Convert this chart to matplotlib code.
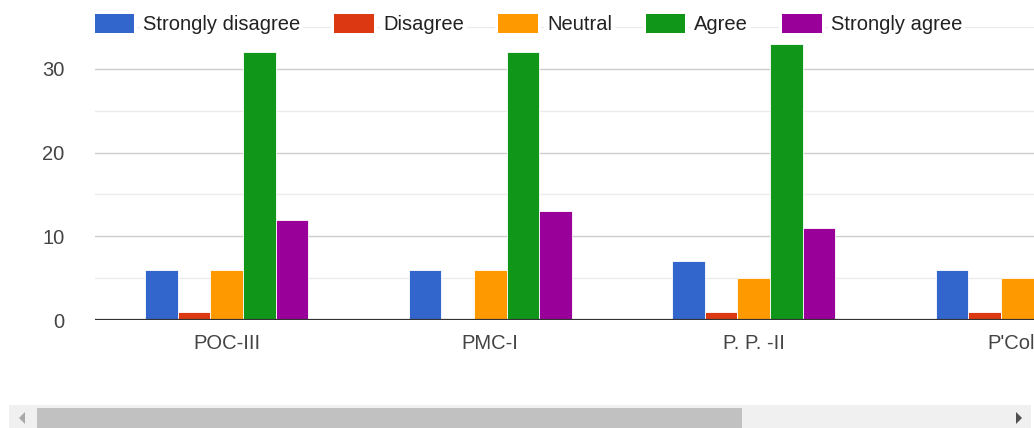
import numpy as np
import matplotlib
matplotlib.use("Agg")
import matplotlib.pyplot as plt
from matplotlib.patches import Rectangle, Polygon

plt.rcParams['font.family'] = ['Liberation Sans', 'DejaVu Sans']

categories = ["POC-III", "PMC-I", "P. P. -II", "P'Col-I"]
series_names = ["Strongly disagree", "Disagree", "Neutral", "Agree", "Strongly agree"]
strongly_disagree = [6, 6, 7, 6]
disagree = [1, 0, 1, 1]
neutral = [6, 6, 5, 5]
agree = [32, 32, 33, np.nan]
strongly_agree = [12, 13, 11, np.nan]
colors = ["#3366cc", "#dc3912", "#ff9900", "#109618", "#990099"]
y_ticks = [0, 10, 20, 30]

series = [strongly_disagree, disagree, neutral, agree, strongly_agree]

W, H = 1034, 428
fig = plt.figure(figsize=(W / 100, H / 100), dpi=100)

def fx(x):
    return x / W

def fy(y):
    return 1 - y / H

ax_left, ax_right, ax_top, ax_bottom = 95, 1034, 27, 320
ax = fig.add_axes([fx(ax_left), fy(ax_bottom), (ax_right - ax_left) / W, (ax_bottom - ax_top) / H])

group_px = 263.5
x = np.arange(len(categories))
bw = 0.1237
for k, (vals, c) in enumerate(zip(series, colors)):
    ax.bar(x + (k - 2) * bw, vals, width=bw, color=c, edgecolor="white", linewidth=0.6, zorder=3)

ax.set_xlim(-0.5, -0.5 + (ax_right - ax_left) / group_px)
ax.set_ylim(0, 35)
ax.set_yticks(y_ticks)
ax.set_yticks([5, 15, 25, 35], minor=True)
ax.grid(axis="y", which="major", color="#cccccc", linewidth=1.0, zorder=0)
ax.grid(axis="y", which="minor", color="#ebebeb", linewidth=1.0, zorder=0)
ax.set_xticks(x)
ax.set_xticklabels(categories)
ax.tick_params(axis="both", which="both", length=0, labelsize=14.5, labelcolor="#444444")
ax.tick_params(axis="y", pad=22)
ax.tick_params(axis="x", pad=10)
for s in ax.spines.values():
    s.set_visible(False)
ax.axhline(0, color="#333333", linewidth=1.6, zorder=5)

# legend
leg = [(95, 134, 143), (334, 374, 383), (498, 538, 547), (646, 685, 694), (782, 822, 831)]
for (x0, x1, tx), name, c in zip(leg, series_names, colors):
    fig.add_artist(Rectangle((fx(x0 - 3), fy(36)), (x1 - x0 + 6) / W, 24 / H,
                             transform=fig.transFigure, facecolor="white", edgecolor="none", zorder=6))
    fig.add_artist(Rectangle((fx(x0), fy(33)), (x1 - x0) / W, 19 / H,
                             transform=fig.transFigure, facecolor=c, edgecolor="none", zorder=7))
    fig.text(fx(tx), fy(24), name, fontsize=14.5, color="#222222", va="center", ha="left", zorder=7,
             bbox=dict(facecolor="white", edgecolor="none", pad=2))

# scrollbar
fig.add_artist(Rectangle((fx(9), fy(428)), (1031 - 9) / W, 23 / H, transform=fig.transFigure,
                         facecolor="#f0f0f0", edgecolor="none"))
fig.add_artist(Rectangle((fx(37), fy(428)), (742 - 37) / W, 20 / H, transform=fig.transFigure,
                         facecolor="#c1c1c1", edgecolor="none"))
fig.add_artist(Polygon([(fx(25), fy(412)), (fx(25), fy(424)), (fx(19), fy(418))], closed=True,
                       transform=fig.transFigure, facecolor="#a8a8a8", edgecolor="none"))
fig.add_artist(Polygon([(fx(1016), fy(412)), (fx(1016), fy(424)), (fx(1022), fy(418))], closed=True,
                       transform=fig.transFigure, facecolor="#505050", edgecolor="none"))

fig.savefig("out.png", dpi=100, facecolor="white")
